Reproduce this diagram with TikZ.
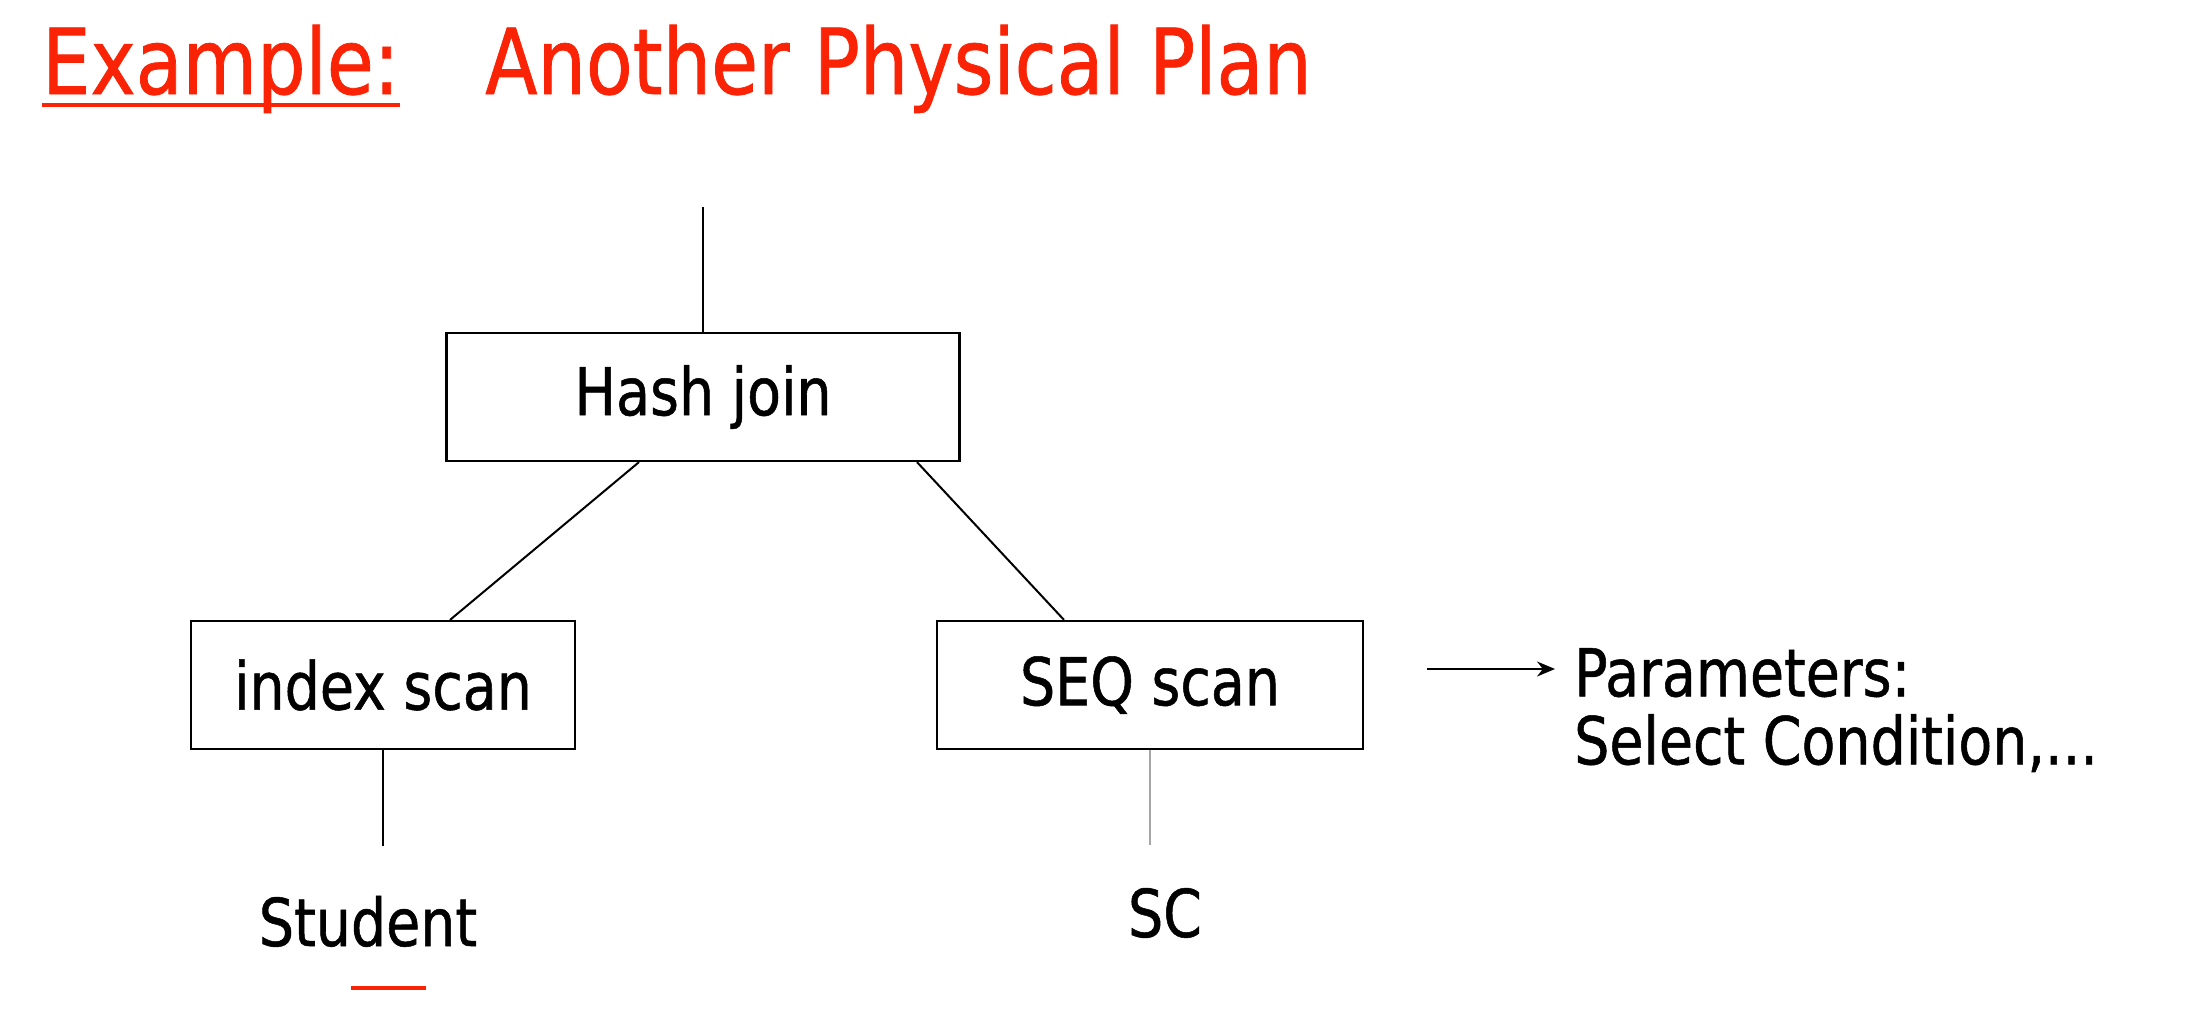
\documentclass[tikz,border=0pt]{standalone}
\usepackage{fontspec}
\setmainfont{DejaVu Sans}[FakeStretch=0.84,FakeBold=0.8]
\usetikzlibrary{arrows.meta}
\definecolor{titlered}{RGB}{250,35,5}
\tikzset{
  opbox/.style={draw,line width=2.2pt,minimum height=128pt,inner sep=0pt},
  edge/.style={line width=2pt}
}
\begin{document}
\begin{tikzpicture}[x=1pt,y=-1pt]
\useasboundingbox (0,0) rectangle (2203,1025);
\fontsize{66}{68}\selectfont

% title
\node[titlered,inner sep=0pt,anchor=base west,font=\fontsize{91}{95}\selectfont] (ex) at (42,94) {Example:};
\node[titlered,inner sep=0pt,anchor=base west,font=\fontsize{91}{95}\selectfont] (title) at (485,94) {Another Physical Plan};
\draw[titlered,line width=4.5pt] ([yshift=-11pt]ex.base west) -- ([yshift=-11pt]ex.base east);

% operators
\node[opbox,minimum width=513pt] (hash) at (703,397) {Hash join};
\node[opbox,minimum width=384pt] (index) at (383,685) {index scan};
\node[opbox,minimum width=426pt] (seq) at (1150,685) {SEQ scan};

\coordinate (out) at (703,207);
\draw[edge] (out) -- (hash.north);
\draw[edge] ([xshift=-64pt]hash.south) -- ([xshift=67pt]index.north);
\draw[edge] ([xshift=214pt]hash.south) -- ([xshift=-86pt]seq.north);

% relations
\node[inner sep=0pt,anchor=base] (student) at (368,946) {Student};
\node[inner sep=0pt,anchor=base] (sc) at (1165,937) {SC};
\draw[edge] (index.south) -- ([yshift=50pt]student.north -| index.south);
\draw[edge,gray!70] (seq.south) -- ([yshift=43pt]sc.north -| seq.south);
\draw[titlered,line width=3.5pt] (351,988) -- (426,988);

% parameters
\node[inner sep=0pt,anchor=north west,align=left] (param) at (1574,648) {Parameters:\\Select Condition,...};
\coordinate (arr) at (1427,669);
\draw[edge,-{Stealth[length=18pt,width=15pt]}] (arr) -- (1555,669);
\end{tikzpicture}
\end{document}
